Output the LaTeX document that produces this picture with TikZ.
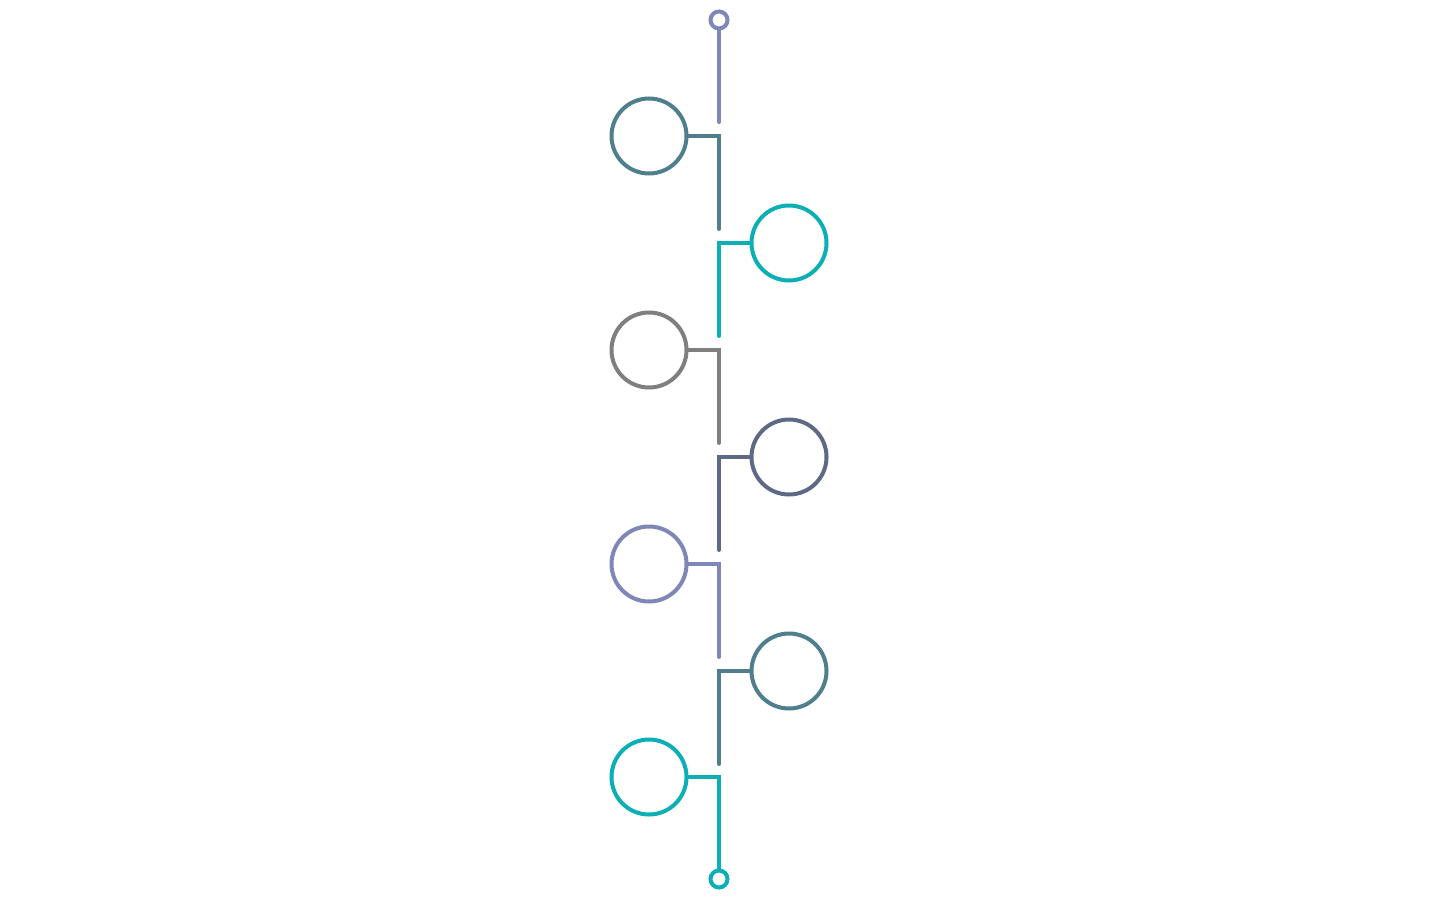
\documentclass[tikz,border=0pt]{standalone}
\begin{document}
\begin{tikzpicture}[x=1pt,y=-1pt,
  big/.style={circle,draw,line width=4pt,minimum size=75pt,inner sep=0pt},
  small/.style={circle,draw,line width=4pt,minimum size=17pt,inner sep=0pt},
  link/.style={line width=4pt,line cap=round,line join=miter}]
\definecolor{cPurple}{HTML}{7F86B8}
\definecolor{cSteel}{HTML}{4F7F8C}
\definecolor{cTeal}{HTML}{0BAFB5}
\definecolor{cGrey}{HTML}{7F7F7F}
\definecolor{cSlate}{HTML}{5E6A85}
\useasboundingbox (0,0) rectangle (1440,902);
% nodes
\node[small,draw=cPurple] (top) at (719,20) {};
\node[big,draw=cSteel] (c1) at (649,136) {};
\node[big,draw=cTeal] (c2) at (789,243) {};
\node[big,draw=cGrey] (c3) at (649,350) {};
\node[big,draw=cSlate] (c4) at (789,457) {};
\node[big,draw=cPurple] (c5) at (649,564) {};
\node[big,draw=cSteel] (c6) at (789,671) {};
\node[big,draw=cTeal] (c7) at (649,777) {};
\node[small,draw=cTeal] (bot) at (719,879) {};
% segment ends
\coordinate (e0) at (719,122);
\coordinate (e1) at (719,229);
\coordinate (e2) at (719,336);
\coordinate (e3) at (719,443);
\coordinate (e4) at (719,550);
\coordinate (e5) at (719,657);
\coordinate (e6) at (719,764);
% connectors
\draw[link,cPurple] (top) -- (e0);
\draw[link,cSteel] (c1.east) -| (e1);
\draw[link,cTeal] (c2.west) -| (e2);
\draw[link,cGrey] (c3.east) -| (e3);
\draw[link,cSlate] (c4.west) -| (e4);
\draw[link,cPurple] (c5.east) -| (e5);
\draw[link,cSteel] (c6.west) -| (e6);
\draw[link,cTeal] (c7.east) -| (bot);
\end{tikzpicture}
\end{document}
